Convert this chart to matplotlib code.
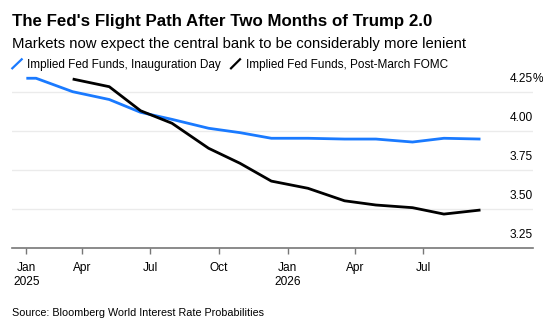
import matplotlib
matplotlib.use("Agg")
import matplotlib.pyplot as plt
import matplotlib.transforms as mtransforms
from matplotlib.lines import Line2D
import pandas as pd

plt.rcParams['font.family'] = ['Liberation Sans', 'DejaVu Sans']

# ---- data ----
blue_dates = ["2025-01-16", "2025-01-29", "2025-03-19", "2025-05-07", "2025-06-18",
              "2025-07-30", "2025-09-17", "2025-10-29", "2025-12-10", "2026-01-28",
              "2026-03-18", "2026-04-29", "2026-06-17", "2026-07-29", "2026-09-16"]
blue_values = [4.336, 4.336, 4.25, 4.20, 4.118, 4.073, 4.016, 3.988, 3.952, 3.952,
               3.947, 3.947, 3.928, 3.952, 3.947]

black_dates = ["2025-03-19", "2025-05-07", "2025-06-18", "2025-07-30", "2025-09-17",
               "2025-10-29", "2025-12-10", "2026-01-28", "2026-03-18", "2026-04-29",
               "2026-06-17", "2026-07-29", "2026-09-16"]
black_values = [4.331, 4.282, 4.128, 4.048, 3.888, 3.792, 3.678, 3.632, 3.552, 3.525,
                3.508, 3.467, 3.493]

blue_label = "Implied Fed Funds, Inauguration Day"
black_label = "Implied Fed Funds, Post-March FOMC"

xtick_dates = ["2025-01-16", "2025-04-01", "2025-07-01", "2025-10-01",
               "2026-01-01", "2026-04-01", "2026-07-01"]
xtick_labels = ["Jan\n2025", "Apr", "Jul", "Oct", "Jan\n2026", "Apr", "Jul"]

yticks = [3.25, 3.50, 3.75, 4.00, 4.25]
ytick_labels = ["3.25", "3.50", "3.75", "4.00", "4.25"]

title = "The Fed's Flight Path After Two Months of Trump 2.0"
subtitle = "Markets now expect the central bank to be considerably more lenient"
source = "Source: Bloomberg World Interest Rate Probabilities"

# ---- helpers ----
origin = pd.Timestamp("2025-01-01")
def to_days(ds):
    return [(pd.Timestamp(d) - origin).days for d in ds]

W, H = 543, 321
fig = plt.figure(figsize=(W / 100, H / 100), dpi=100)

left_px, right_px, top_px, bottom_px = 11.7, 533, 74.5, 248
ax = fig.add_axes([left_px / W, 1 - bottom_px / H,
                   (right_px - left_px) / W, (bottom_px - top_px) / H])

BLUE = "#1a7aff"
ax.plot(to_days(blue_dates), blue_values, color=BLUE, lw=2.0,
        solid_joinstyle='round', solid_capstyle='butt', zorder=3)
ax.plot(to_days(black_dates), black_values, color="black", lw=2.0,
        solid_joinstyle='round', solid_capstyle='butt', zorder=4)

ax.set_xlim(-4.6, 693.3)
ax.set_ylim(3.25, 4.36)

for s in ["top", "right", "left"]:
    ax.spines[s].set_visible(False)
ax.spines["bottom"].set_color("#777777")
ax.spines["bottom"].set_linewidth(1.2)

ax.set_yticks(yticks)
ax.tick_params(axis='y', length=0, labelleft=False)
ax.grid(axis='y', color="#ebebeb", lw=1.0)
ax.set_axisbelow(True)

ax.set_xticks(to_days(xtick_dates))
ax.set_xticklabels(xtick_labels, fontsize=8.6, linespacing=1.25)
ax.tick_params(axis='x', length=4, width=1, color="#777777", pad=6)

trans = mtransforms.blended_transform_factory(ax.transAxes, ax.transData)
trans_off = mtransforms.offset_copy(trans, fig=fig, y=9.0, units='points')
for v, lab in zip(yticks, ytick_labels):
    ax.text(1.0, v, lab, transform=trans_off, ha='right', va='center', fontsize=8.6)
    if v == max(yticks):
        ax.text(1.0, v, "%", transform=trans_off, ha='left', va='center', fontsize=8.6)

# ---- titles ----
fig.text(12 / W, 1 - 25.7 / H, title, fontsize=12.2, fontweight='bold', va='baseline')
fig.text(12 / W, 1 - 48.3 / H, subtitle, fontsize=10.7, va='baseline')

# legend
fig.add_artist(Line2D([12.3 / W, 21.7 / W], [1 - 68.3 / H, 1 - 59.3 / H], color=BLUE, lw=1.6))
fig.text(27 / W, 1 - 68.3 / H, blue_label, fontsize=8.5, va='baseline')
fig.add_artist(Line2D([231 / W, 240 / W], [1 - 68.3 / H, 1 - 59.3 / H], color="black", lw=1.6))
fig.text(246 / W, 1 - 68.3 / H, black_label, fontsize=8.5, va='baseline')

fig.text(12 / W, 1 - 315.5 / H, source, fontsize=7.75, va='baseline')

fig.savefig("out.png", dpi=100)
